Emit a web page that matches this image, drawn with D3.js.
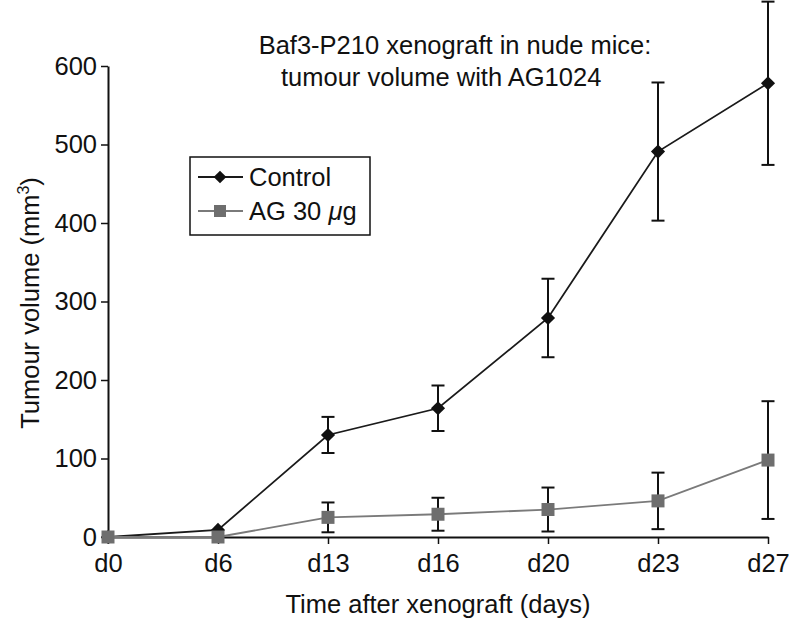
<!DOCTYPE html>
<html><head><meta charset="utf-8">
<script src="https://cdn.jsdelivr.net/npm/d3@7"></script>
<style>body{margin:0;background:#fff}svg{display:block}text{font-family:"Liberation Sans",Arial,sans-serif;fill:#111}</style>
</head><body><svg id="c" width="789" height="619"></svg>
<script>
const categories = ["d0","d6","d13","d16","d20","d23","d27"];
const controlValues = [0, 9, 130, 164, 279, 491, 578];
const controlErrors = [0, 0, 23, 29, 50, 88, 104];
const agValues = [0, 0, 25, 29, 35, 46, 98];
const agErrors = [0, 0, 19, 21, 28, 36, 75];
const yTicks = [0,100,200,300,400,500,600];
const titleLines = ["Baf3-P210 xenograft in nude mice:", "tumour volume with AG1024"];

const FS = 25.5;
const svg = d3.select("#c");
const x = d3.scalePoint().domain(categories).range([108, 768]);
const y = d3.scaleLinear().domain([0, 600]).range([537, 66]);

// axes
const ya = svg.append("g").attr("transform","translate(108,0)")
  .call(d3.axisLeft(y).tickValues(yTicks).tickSize(7).tickPadding(4).tickSizeOuter(0));
ya.select(".domain").attr("stroke","#111").attr("stroke-width",2);
ya.selectAll(".tick line").attr("stroke","#111").attr("stroke-width",1.5);
ya.selectAll(".tick text").attr("font-size",FS).attr("font-family","Liberation Sans, Arial, sans-serif").attr("fill","#111");

const xa = svg.append("g").attr("transform","translate(0,537)")
  .call(d3.axisBottom(x).tickSize(7).tickPadding(10).tickSizeOuter(0));
xa.select(".domain").attr("stroke","#111").attr("stroke-width",2);
xa.selectAll(".tick line").attr("stroke","#111").attr("stroke-width",1.5);
xa.selectAll(".tick text").attr("font-size",FS).attr("font-family","Liberation Sans, Arial, sans-serif").attr("fill","#111");

// axis titles
svg.append("text").attr("x",438).attr("y",613).attr("text-anchor","middle").attr("font-size",FS).text("Time after xenograft (days)");
const yt = svg.append("text").attr("transform","translate(39,303) rotate(-90)").attr("text-anchor","middle").attr("font-size",FS);
yt.append("tspan").text("Tumour volume (mm");
yt.append("tspan").attr("font-size",16).attr("dy",-10).text("3");
yt.append("tspan").attr("dy",10).text(")");

// title
svg.append("text").attr("x",455).attr("y",54).attr("text-anchor","middle").attr("font-size",FS).text(titleLines[0]);
svg.append("text").attr("x",281).attr("y",86).attr("font-size",FS).text(titleLines[1]);

const diamond = d3.symbol().type(d3.symbolSquare).size(100);
function series(vals, errs, color, shape){
  const pts = categories.map((c,i)=>({c, v:vals[i], e:errs[i]}));
  const g = svg.append("g");
  g.append("path").datum(pts)
    .attr("d", d3.line().x(d=>x(d.c)).y(d=>y(d.v)))
    .attr("fill","none").attr("stroke",color).attr("stroke-width",1.8);
  const eb = g.selectAll(".eb").data(pts.filter(d=>d.e>0)).join("g");
  eb.append("line").attr("x1",d=>x(d.c)).attr("x2",d=>x(d.c)).attr("y1",d=>y(d.v+d.e)).attr("y2",d=>y(d.v-d.e)).attr("stroke","#111").attr("stroke-width",2);
  [1,-1].forEach(s=>{
    eb.append("line").attr("x1",d=>x(d.c)-6.5).attr("x2",d=>x(d.c)+6.5).attr("y1",d=>y(d.v+s*d.e)).attr("y2",d=>y(d.v+s*d.e)).attr("stroke","#111").attr("stroke-width",2);
  });
  g.selectAll(".m").data(pts).join("path")
    .attr("transform",d=>`translate(${x(d.c)},${y(d.v)})` + (shape==="sq"?"":" rotate(45)"))
    .attr("d", shape==="sq"?d3.symbol().type(d3.symbolSquare).size(169)():diamond())
    .attr("fill", shape==="sq"?"#6e6e6e":"#111");
}
series(controlValues, controlErrors, "#1a1a1a", "di");
series(agValues, agErrors, "#7a7a7a", "sq");

// legend
const lg = svg.append("g");
lg.append("rect").attr("x",190).attr("y",157).attr("width",180).attr("height",78).attr("fill","#fff").attr("stroke","#111").attr("stroke-width",1.5);
const legendItems = [{name:"Control", color:"#1a1a1a", shape:"di"},{name:"AG 30 \u03bcg", color:"#7a7a7a", shape:"sq"}];
legendItems.forEach((it,i)=>{
  const cy = 177 + i*34;
  lg.append("line").attr("x1",198).attr("x2",243).attr("y1",cy).attr("y2",cy).attr("stroke",it.color).attr("stroke-width",1.8);
  lg.append("path").attr("transform",`translate(220,${cy})` + (it.shape==="sq"?"":" rotate(45)"))
    .attr("d",it.shape==="sq"?d3.symbol().type(d3.symbolSquare).size(144)():d3.symbol().type(d3.symbolSquare).size(80)())
    .attr("fill",it.shape==="sq"?"#6e6e6e":"#111");
  const t = lg.append("text").attr("x",249).attr("y",cy+9).attr("font-size",FS);
  if(i===0) t.text(it.name);
  else { t.append("tspan").text("AG 30 "); t.append("tspan").attr("font-style","italic").text("\u03bc"); t.append("tspan").text("g"); }
});
</script></body></html>
